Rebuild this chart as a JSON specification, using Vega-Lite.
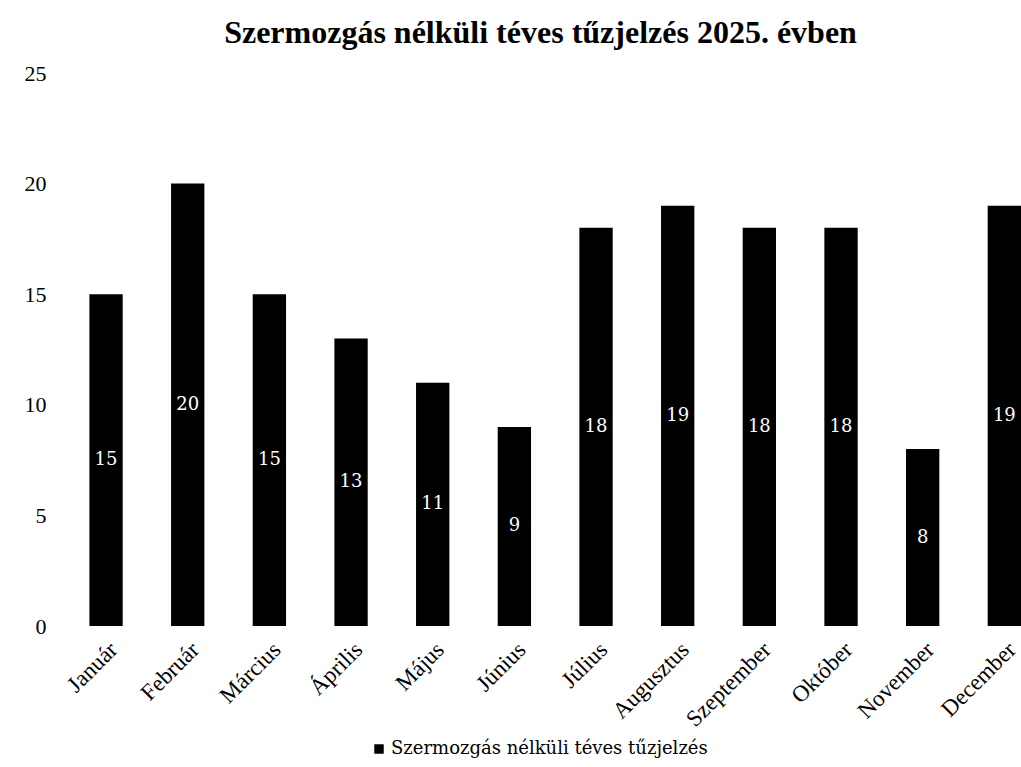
{
  "$schema": "https://vega.github.io/schema/vega-lite/v6.json",
  "width": 961,
  "height": 553,
  "autosize": {"type": "none"},
  "padding": {"left": 60, "top": 73, "right": 0, "bottom": 141},
  "background": "white",
  "config": {
    "view": {"stroke": null},
    "font": "Liberation Serif"
  },
  "title": {
    "text": "Szermozgás nélküli téves tűzjelzés 2025. évben",
    "font": "Liberation Serif",
    "fontSize": 32,
    "fontWeight": "bold",
    "color": "black",
    "anchor": "middle",
    "offset": 12
  },
  "data": {
    "values": [
      {"honap": "Január", "ertek": 15, "sorozat": "Szermozgás nélküli téves tűzjelzés"},
      {"honap": "Február", "ertek": 20, "sorozat": "Szermozgás nélküli téves tűzjelzés"},
      {"honap": "Március", "ertek": 15, "sorozat": "Szermozgás nélküli téves tűzjelzés"},
      {"honap": "Április", "ertek": 13, "sorozat": "Szermozgás nélküli téves tűzjelzés"},
      {"honap": "Május", "ertek": 11, "sorozat": "Szermozgás nélküli téves tűzjelzés"},
      {"honap": "Június", "ertek": 9, "sorozat": "Szermozgás nélküli téves tűzjelzés"},
      {"honap": "Július", "ertek": 18, "sorozat": "Szermozgás nélküli téves tűzjelzés"},
      {"honap": "Augusztus", "ertek": 19, "sorozat": "Szermozgás nélküli téves tűzjelzés"},
      {"honap": "Szeptember", "ertek": 18, "sorozat": "Szermozgás nélküli téves tűzjelzés"},
      {"honap": "Október", "ertek": 18, "sorozat": "Szermozgás nélküli téves tűzjelzés"},
      {"honap": "November", "ertek": 8, "sorozat": "Szermozgás nélküli téves tűzjelzés"},
      {"honap": "December", "ertek": 19, "sorozat": "Szermozgás nélküli téves tűzjelzés"}
    ]
  },
  "encoding": {
    "x": {
      "field": "honap",
      "type": "nominal",
      "sort": null,
      "scale": {"paddingInner": 0.592, "paddingOuter": 0.18, "align": 1},
      "axis": {
        "title": null,
        "labelAngle": -45,
        "labelFont": "Liberation Serif",
        "labelFontSize": 23,
        "labelColor": "black",
        "labelPadding": 12,
        "ticks": false,
        "domain": false
      }
    }
  },
  "layer": [
    {
      "mark": {"type": "bar", "color": "black"},
      "encoding": {
        "y": {
          "field": "ertek",
          "type": "quantitative",
          "scale": {"domain": [0, 25]},
          "axis": {
            "title": null,
            "values": [0, 5, 10, 15, 20, 25],
            "labelFont": "Liberation Serif",
            "labelFontSize": 22,
            "labelColor": "black",
            "labelPadding": 14,
            "ticks": false,
            "domain": false,
            "grid": false
          }
        },
        "color": {
          "field": "sorozat",
          "type": "nominal",
          "scale": {"range": ["black"]},
          "legend": {
            "title": null,
            "orient": "none",
            "legendX": 310,
            "legendY": 667,
            "direction": "horizontal",
            "symbolType": "square",
            "symbolSize": 90,
            "symbolStrokeWidth": 0,
            "labelFont": "DejaVu Serif",
            "labelFontSize": 18,
            "labelLimit": 0,
            "labelColor": "black",
            "labelOffset": 3
          }
        }
      }
    },
    {
      "mark": {"type": "text", "color": "white", "font": "DejaVu Serif", "fontSize": 18, "baseline": "middle"},
      "encoding": {
        "y": {
          "field": "ertek",
          "type": "quantitative",
          "scale": {"domain": [0, 50]},
          "axis": null
        },
        "text": {"field": "ertek", "type": "quantitative"}
      }
    }
  ],
  "resolve": {"scale": {"y": "independent"}}
}
